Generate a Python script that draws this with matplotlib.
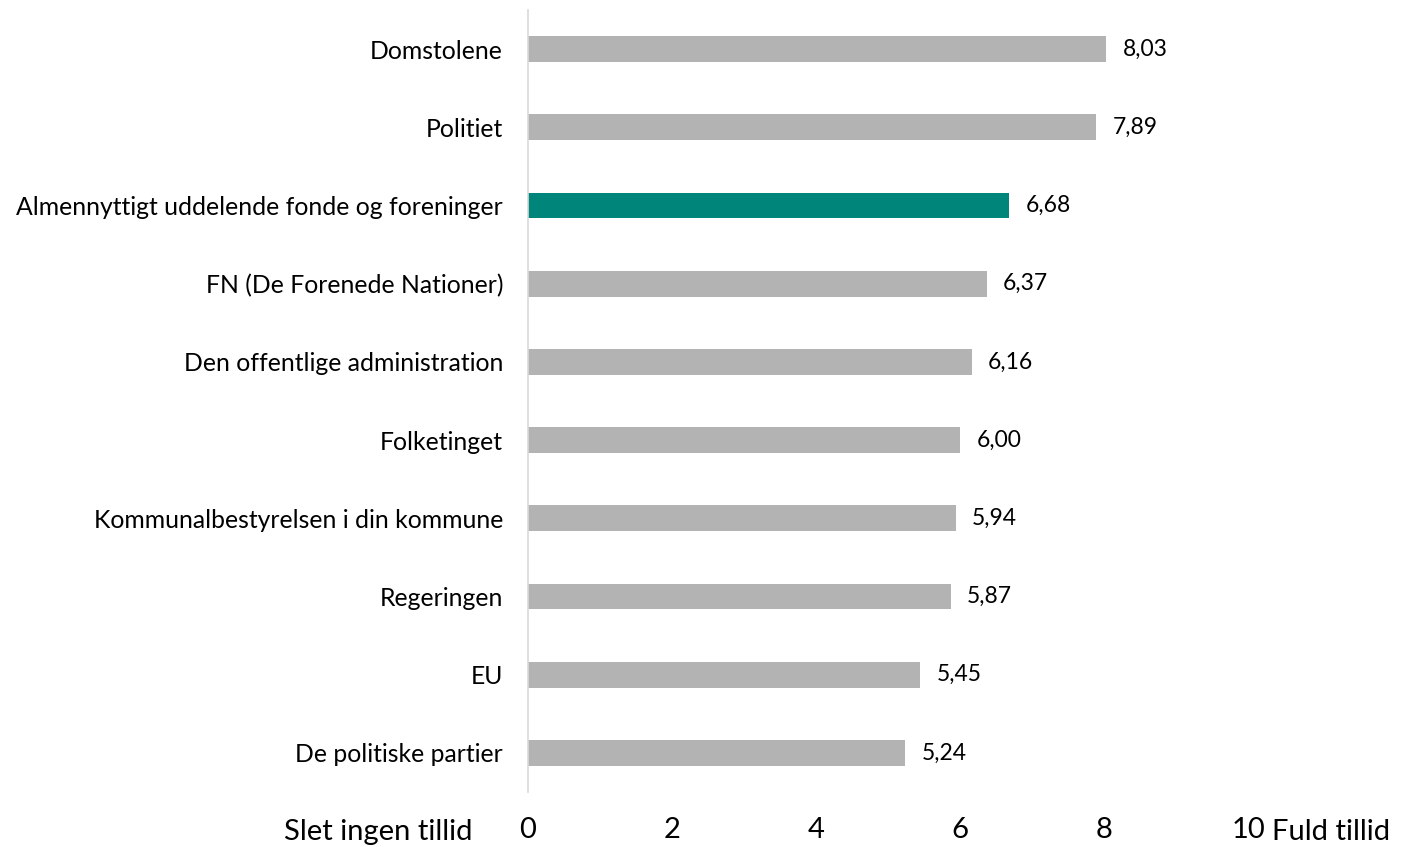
import matplotlib
matplotlib.use("Agg")
import matplotlib.pyplot as plt

plt.rcParams['font.family'] = ['Lato', 'DejaVu Sans']

categories = ["Domstolene", "Politiet", "Almennyttigt uddelende fonde og foreninger",
              "FN (De Forenede Nationer)", "Den offentlige administration", "Folketinget",
              "Kommunalbestyrelsen i din kommune", "Regeringen", "EU", "De politiske partier"]
values = [8.03, 7.89, 6.68, 6.37, 6.16, 6.00, 5.94, 5.87, 5.45, 5.24]
highlight = "Almennyttigt uddelende fonde og foreninger"
xticks = [0, 2, 4, 6, 8, 10]

fig = plt.figure(figsize=(14.03, 8.47), dpi=100)
ax = fig.add_axes([528 / 1403, 1 - 792 / 847, 720 / 1403, 782 / 847])

ypos = list(range(len(categories)))
colors = ["#00857a" if c == highlight else "#b3b3b3" for c in categories]
ax.barh(ypos, values, height=0.33, color=colors)
for y, v in zip(ypos, values):
    ax.text(v + 0.23, y, f"{v:.2f}".replace(".", ","), va="center", ha="left",
            fontsize=16.5, color="#000000")

ax.set_xlim(0, 10)
ax.set_ylim(len(categories) - 0.5, -0.5)
ax.set_yticks(ypos)
ax.set_yticklabels(categories, fontsize=17.8)
ax.tick_params(axis="y", length=0, pad=18)
ax.set_xticks(xticks)
ax.set_xticklabels([str(t) for t in xticks], fontsize=21)
ax.tick_params(axis="x", length=0, pad=18)

for s in ["top", "right", "bottom"]:
    ax.spines[s].set_visible(False)
ax.spines["left"].set_color("#d9d9d9")
ax.spines["left"].set_linewidth(1.2)

fig.text(472 / 1403, 1 - 832 / 847, "Slet ingen tillid", ha="right", va="center", fontsize=21)
fig.text(1272 / 1403, 1 - 832 / 847, "Fuld tillid", ha="left", va="center", fontsize=21)

fig.savefig("out.png", dpi=100)
